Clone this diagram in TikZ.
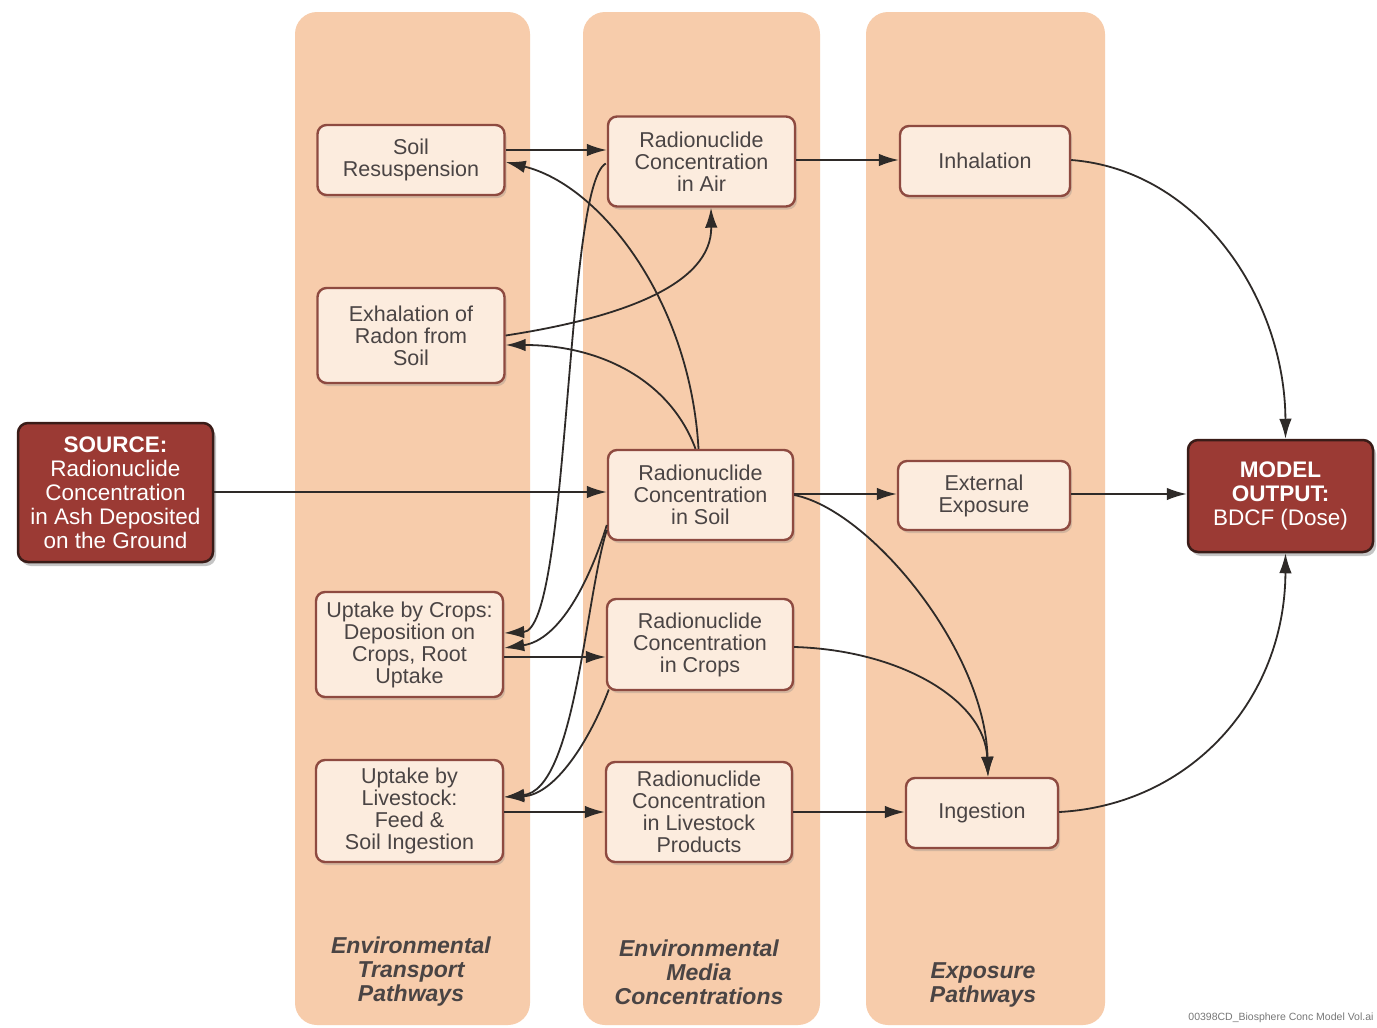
\documentclass[tikz,border=0pt]{standalone}
\usepackage{fontspec}
\setmainfont{Liberation Sans}
\usetikzlibrary{arrows.meta,shadows,calc}
\definecolor{bandc}{HTML}{F7CCAB}
\definecolor{boxfill}{HTML}{FCECDE}
\definecolor{boxline}{HTML}{8E4A40}
\definecolor{srcfill}{HTML}{9B3A34}
\definecolor{srcline}{HTML}{3A1C18}
\definecolor{txt}{HTML}{4A4444}
\definecolor{edgec}{HTML}{2E2A28}
\definecolor{foot}{HTML}{777777}
\begin{document}
\begin{tikzpicture}[x=1pt,y=-1pt,
  band/.style={fill=bandc, rounded corners=22pt},
  box/.style={draw=boxline, line width=2.4pt, fill=boxfill, rounded corners=9pt, text=txt,
    align=center, font=\fontsize{21.5}{22}\selectfont, inner sep=0pt,
    drop shadow={shadow xshift=2pt, shadow yshift=-3pt, opacity=0.3}},
  redbox/.style={draw=srcline, line width=2.5pt, fill=srcfill, rounded corners=10pt, text=white,
    align=center, font=\fontsize{22.5}{24}\selectfont, inner sep=0pt,
    drop shadow={shadow xshift=3pt, shadow yshift=-4pt, opacity=0.45}},
  lbl/.style={align=center, text=txt, font=\fontsize{23}{24}\selectfont\bfseries\itshape},
  conn/.style={draw=edgec, line width=1.8pt, -{Latex[length=20pt,width=12.5pt]}}
]
\useasboundingbox (0,0) rectangle (1377,1028);
\fill[white] (0,0) rectangle (1377,1028);
% bands
\path[band] (295,12) rectangle (530,1025);
\path[band] (583,12) rectangle (820,1025);
\path[band] (866,12) rectangle (1105,1025);

% nodes
\node[box, minimum width=187pt, minimum height=70pt] (sr) at (411,160) {Soil\\Resuspension};
\node[box, minimum width=187pt, minimum height=90pt] (air) at (701.5,161.5) {Radionuclide\\Concentration\\in Air};
\node[box, minimum width=170pt, minimum height=70pt] (inh) at (985,161) {Inhalation};
\node[box, minimum width=187pt, minimum height=95pt] (exh) at (411,335.5) {Exhalation of\\Radon from\\Soil};
\node[redbox, minimum width=195pt, minimum height=139pt] (src) at (115.5,492.5) {\textbf{SOURCE:}\\Radionuclide\\Concentration\\in Ash Deposited\\on the Ground};
\node[box, minimum width=185pt, minimum height=90pt] (soil) at (700.5,495) {Radionuclide\\Concentration\\in Soil};
\node[box, minimum width=172pt, minimum height=69pt] (ext) at (984,495.5) {External\\Exposure};
\node[redbox, minimum width=185pt, minimum height=112pt] (model) at (1280.5,496) {\textbf{MODEL}\\\textbf{OUTPUT:}\\BDCF (Dose)};
\node[box, minimum width=187pt, minimum height=105pt] (upc) at (409.5,644.5) {Uptake by Crops:\\Deposition on\\Crops, Root\\Uptake};
\node[box, minimum width=186pt, minimum height=91pt] (crops) at (700,644.5) {Radionuclide\\Concentration\\in Crops};
\node[box, minimum width=187pt, minimum height=102pt] (upl) at (409.5,811) {Uptake by\\Livestock:\\Feed \&\\Soil Ingestion};
\node[box, minimum width=186pt, minimum height=100pt] (live) at (699,812) {Radionuclide\\Concentration\\in Livestock\\Products};
\node[box, minimum width=152pt, minimum height=70pt] (ing) at (982,813) {Ingestion};

% labels
\node[lbl] (l1) at (411,972) {Environmental\\Transport\\Pathways};
\node[lbl] (l2) at (699,972) {Environmental\\Media\\Concentrations};
\node[lbl] (l3) at (983,985) {Exposure\\Pathways};
\node[anchor=east, text=foot, font=\fontsize{10.5}{12}\selectfont] (ft) at (1377,1018) {00398CD\_Biosphere Conc Model Vol.ai};

% straight connectors
\draw[conn] ($(sr.east)+(0,-10)$) -- ($(air.west)+(0,-11.5)$);
\draw[conn] ($(air.east)+(0,-1.5)$) -- ($(inh.west)+(0,-1)$);
\draw[conn] ($(src.east)+(0,-0.5)$) -- ($(soil.west)+(0,-3)$);
\draw[conn] ($(soil.east)+(0,-1)$) -- ($(ext.west)+(0,-1.5)$);
\draw[conn] ($(ext.east)+(0,-1.5)$) -- ($(model.west)+(0,-2)$);
\draw[conn] ($(upc.east)+(0,12.5)$) -- ($(crops.west)+(0,12.5)$);
\draw[conn] ($(upl.east)+(0,1)$) -- ($(live.west)+(0,0)$);
\draw[conn] ($(live.east)+(0,0)$) -- ($(ing.west)+(0,-1)$);

% curved connectors
\draw[conn] ($(soil.north)+(-2,0)$) .. controls (690,300) and (600,185) .. ($(sr.east)+(0,2)$);
\draw[conn] ($(soil.north)+(-5,0)$) .. controls (670,380) and (600,345) .. ($(exh.east)+(0,9.5)$);
\draw[conn] ($(exh.east)+(0,0)$) .. controls (620,318) and (712,285) .. ($(air.south)+(9.5,0)$);
\draw[conn] ($(air.west)+(-1,2)$) .. controls (565,185) and (570,630) .. ($(upc.east)+(0,-11.5)$);
\draw[conn] ($(soil.west)+(0,30)$) .. controls (590,580) and (560,640) .. ($(upc.east)+(0,3.5)$);
\draw[conn] ($(soil.west)+(0,35)$) .. controls (585,600) and (575,790) .. ($(upl.east)+(0,-14)$);
\draw[conn] ($(crops.west)+(3,45)$) .. controls (590,740) and (555,795) .. ($(upl.east)+(0,-14)$);
\draw[conn] ($(soil.east)+(0,0)$) .. controls (870,510) and (985,650) .. ($(ing.north)+(6,0)$);
\draw[conn] ($(crops.east)+(0,2.5)$) .. controls (900,650) and (985,700) .. ($(ing.north)+(6,0)$);
\draw[conn] ($(inh.east)+(0,-1)$) .. controls (1200,170) and (1285,300) .. ($(model.north)+(5,0)$);
\draw[conn] ($(ing.east)+(0,-1)$) .. controls (1190,805) and (1285,700) .. ($(model.south)+(5,0)$);
\end{tikzpicture}
\end{document}
